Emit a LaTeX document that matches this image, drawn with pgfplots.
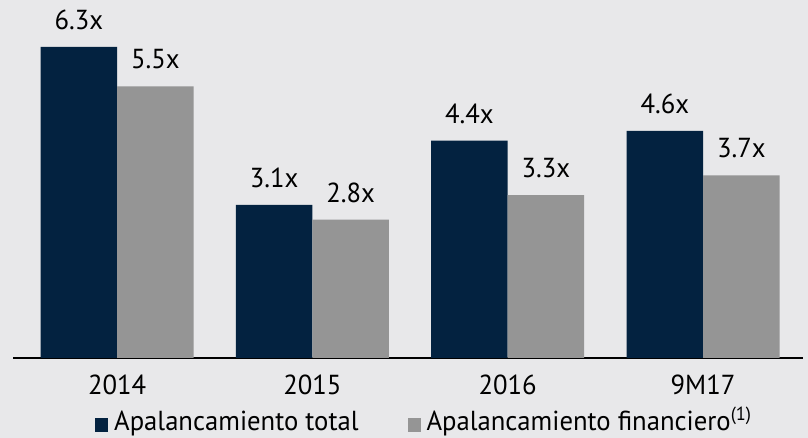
\documentclass[border=0pt]{standalone}
\usepackage{pgfplots}
\pgfplotsset{compat=1.18}
\usepackage{fontspec}
\setmainfont{PT Sans}[FakeStretch=0.97]
\definecolor{navy}{RGB}{3,34,64}
\definecolor{grayb}{RGB}{149,149,149}
\definecolor{bg}{RGB}{232,232,234}
\begin{document}
\begin{tikzpicture}
\useasboundingbox (0,0) rectangle (808pt,438pt);
\fill[bg] (0,0) rectangle (808pt,438pt);
\begin{axis}[
  at={(13pt,80pt)}, anchor=south west,
  scale only axis, width=790pt, height=358pt,
  ybar=0pt, bar width=76.5pt,
  xmin=-0.533, xmax=3.512, ymin=0, ymax=7.25,
  xtick={0,1,2,3}, xticklabels={2014,2015,2016,9M17},
  hide y axis,
  axis x line*=bottom,
  axis line style={black, line width=1.6pt},
  major tick length=0pt,
  font=\fontsize{27.5}{31}\selectfont,
  xticklabel style={inner sep=0pt, anchor=north, yshift=-17pt, font=\fontsize{27.5}{31}\selectfont},
  /pgf/number format/assume math mode=true,
  nodes near coords={\pgfmathprintnumber[fixed,fixed zerofill,precision=1]{\pgfplotspointmeta}x},
  nodes near coords style={anchor=south, inner sep=0pt, yshift=17pt, black, font=\fontsize{27.5}{31}\selectfont},
  legend style={at={(0.1,-0.176)}, anchor=west, draw=none, fill=none,
    legend columns=2, font=\fontsize{27.5}{31}\selectfont,
    nodes={inner sep=1pt},
    /tikz/every even column/.append style={column sep=48pt}},
  legend image code/.code={\fill[#1] (0pt,-11pt) rectangle (13pt,3pt); \path (18pt,0pt);},
]
\addplot[fill=navy, draw=none] coordinates {(0,6.3) (1,3.1) (2,4.4) (3,4.6)};
\addplot[fill=grayb, draw=none] coordinates {(0,5.5) (1,2.8) (2,3.3) (3,3.7)};
\legend{Apalancamiento total, {Apalancamiento financiero\raisebox{10pt}[0pt][0pt]{\fontsize{19}{22}\selectfont(1)}}}
\end{axis}
\end{tikzpicture}
\end{document}
